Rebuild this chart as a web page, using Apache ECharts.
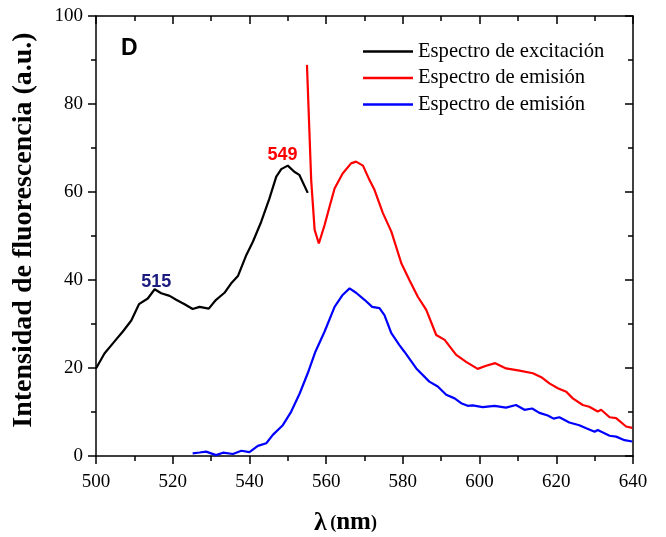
<!DOCTYPE html>
<html>
<head>
<meta charset="utf-8">
<script src="https://cdn.jsdelivr.net/npm/echarts@6/dist/echarts.min.js"></script>
<style>
  html, body { margin: 0; padding: 0; background: #fff; }
  #chart { width: 666px; height: 537px; }
</style>
</head>
<body>
<div id="chart"></div>
<script>
// espectro de excitacion (nm, intensidad)
var excitacion = [
  [500, 19.9], [502.2, 23.3], [504.4, 25.6], [507, 28.3], [509.2, 30.8], [511.2, 34.5],
  [513.5, 35.8], [515.3, 37.9], [517, 37.0], [519.2, 36.4], [520.9, 35.5], [523.1, 34.5],
  [525.2, 33.4], [527, 33.9], [529.4, 33.5], [531.3, 35.5], [533.5, 37.1], [535.2, 39.2],
  [537, 40.9], [539.2, 45.7], [540.9, 48.7], [543.1, 53.3], [545.2, 58.5], [547, 63.5],
  [548.3, 65.2], [550, 66], [551.7, 64.6], [553, 63.9], [555.2, 59.8]
]

// espectro de emision (rojo)
var emisionRoja = [
  [555, 88.9], [556.1, 62.7], [557, 51.4], [558.1, 48.3], [559.6, 52.5], [560.9, 56.7],
  [562.2, 60.8], [564.3, 64.2], [566.5, 66.5], [567.8, 66.9], [569.6, 66.0], [571.3, 62.7],
  [572.6, 60.5], [574.8, 55.2], [577, 51], [579.6, 43.8], [581.7, 40], [583.9, 36.2],
  [586.1, 33.2], [588.7, 27.5], [590.9, 26.4], [593.9, 23], [596.5, 21.4], [599.5, 19.8],
  [601.7, 20.5], [604.1, 21.1], [606.9, 19.9], [610.4, 19.4], [613.9, 18.8], [616.1, 17.9],
  [618.2, 16.5], [620.4, 15.4], [622.6, 14.6], [624.3, 13.1], [626.9, 11.6], [628.6, 11.2],
  [630.8, 10.1], [631.7, 10.5], [633.9, 8.8], [635.6, 8.6], [638.2, 6.7], [639.8, 6.4]
]

// espectro de emision (azul)
var emisionAzul = [
  [525.2, 0.6], [527, 0.8], [528.7, 1.0], [531.3, 0.2], [533.1, 0.75], [535.7, 0.45],
  [537.9, 1.2], [540, 0.9], [542.2, 2.3], [544.4, 2.9], [546.1, 4.8], [548.7, 7],
  [550.9, 10.1], [553.1, 14.2], [555.2, 18.8], [557.2, 23.7], [559.6, 28.3], [562.2, 33.9],
  [564.3, 36.6], [566.1, 38.1], [567.8, 37.1], [570, 35.5], [572, 33.9], [573.9, 33.6],
  [575.2, 32], [577, 27.9], [579.1, 25.2], [580.4, 23.7], [583.5, 19.9], [586.9, 16.9],
  [589.1, 15.8], [591.3, 13.9], [593.5, 13.1], [595.2, 12], [596.9, 11.4], [598.2, 11.5],
  [600.8, 11.1], [603.9, 11.4], [606.9, 11], [609.5, 11.6], [611.7, 10.5], [613.7, 10.8],
  [615.6, 9.8], [617.8, 9.2], [619.3, 8.5], [620.8, 8.8], [623.4, 7.6], [626, 7],
  [627.8, 6.3], [630, 5.5], [630.8, 5.9], [633.9, 4.6], [635.6, 4.4], [637.8, 3.6], [639.8, 3.3]
]

var nombres = ['Espectro de excitación', 'Espectro de emisión', 'Espectro de emisión\u200b']
var colores = ['#000000', '#ff0000', '#0000ff']

// etiquetas de picos: [nm, intensidad, texto]
var pico549 = [548.6, 68.4, '549']
var pico515 = [515.7, 39.5, '515']

var serif = '"Liberation Serif", "Times New Roman", serif'

var myChart = echarts.init(document.getElementById('chart'))

var ejeX = {
  type: 'value',
  min: 500,
  max: 640,
  interval: 20,
  axisLine: { onZero: false, lineStyle: { color: '#000', width: 1.5 } },
  splitLine: { show: false }
}
var ejeY = {
  type: 'value',
  min: 0,
  max: 100,
  interval: 20,
  axisLine: { show: true, onZero: false, lineStyle: { color: '#000', width: 1.5 } },
  splitLine: { show: false }
}

function marca(p, color) {
  return {
    symbol: 'circle',
    symbolSize: 1,
    itemStyle: { color: 'rgba(0,0,0,0)' },
    label: {
      show: true,
      position: 'inside',
      color: color,
      fontFamily: 'Arial, "Liberation Sans", sans-serif',
      fontWeight: 'bold',
      fontSize: 18,
      formatter: p[2]
    },
    data: [{ coord: [p[0], p[1]] }]
  }
}

var option = {
  animation: false,
  backgroundColor: '#fff',
  grid: { left: 96, right: 33, top: 16, bottom: 81, containLabel: false, outerBoundsMode: 'none' },
  legend: {
    data: nombres.map(function (n) { return { name: n, icon: 'rect' } }),
    orient: 'vertical',
    left: 358,
    top: 36,
    itemWidth: 50,
    itemHeight: 2.5,
    itemGap: 5.5,
    formatter: function (n) { return n.replace('\u200b', '') },
    textStyle: { fontFamily: serif, fontSize: 20.6, color: '#000', lineHeight: 21 }
  },
  xAxis: [
    Object.assign({}, ejeX, {
      position: 'bottom',
      name: '{l|λ} {p|(}{n|nm}{p|)}',
      nameLocation: 'middle',
      nameGap: 54,
      nameTextStyle: {
        padding: [0, 38, 0, 0],
        rich: {
          l: { fontFamily: serif, fontWeight: 'bold', fontSize: 26, color: '#000' },
          p: { fontFamily: serif, fontWeight: 'bold', fontSize: 18, color: '#000' },
          n: { fontFamily: serif, fontWeight: 'bold', fontSize: 25, color: '#000' }
        }
      },
      axisTick: { inside: false, length: 8, lineStyle: { color: '#000', width: 1.5 } },
      minorTick: { show: true, splitNumber: 2, length: 5, lineStyle: { color: '#000', width: 1.5 } },
      axisLabel: { fontFamily: serif, fontSize: 19, color: '#000', margin: 17 }
    }),
    Object.assign({}, ejeX, {
      position: 'top',
      axisTick: { inside: true, length: 8, lineStyle: { color: '#000', width: 1.5 } },
      minorTick: { show: true, splitNumber: 2, length: 5, lineStyle: { color: '#000', width: 1.5 } },
      axisLabel: { show: false }
    })
  ],
  yAxis: [
    Object.assign({}, ejeY, {
      position: 'left',
      name: 'Intensidad de fluorescencia (a.u.)',
      nameLocation: 'middle',
      nameGap: 58,
      nameTextStyle: { fontFamily: serif, fontWeight: 'bold', fontSize: 28, color: '#000', padding: [0, 0, 0, 12] },
      axisTick: { inside: false, length: 8, lineStyle: { color: '#000', width: 1.5 } },
      minorTick: { show: true, splitNumber: 2, length: 5, lineStyle: { color: '#000', width: 1.5 } },
      axisLabel: { fontFamily: serif, fontSize: 19, color: '#000', margin: 13 }
    }),
    Object.assign({}, ejeY, {
      position: 'right',
      axisTick: { inside: true, length: 8, lineStyle: { color: '#000', width: 1.5 } },
      minorTick: { show: true, splitNumber: 2, length: 5, lineStyle: { color: '#000', width: 1.5 } },
      axisLabel: { show: false }
    })
  ],
  graphic: [{
    type: 'text',
    left: 121,
    top: 37,
    style: { text: 'D', fontFamily: 'Arial, "Liberation Sans", sans-serif', fontWeight: 'bold', fontSize: 23, fill: '#000' }
  }],
  series: [
    {
      name: nombres[0], type: 'line', data: excitacion, showSymbol: false,
      lineStyle: { color: colores[0], width: 2.2 }, itemStyle: { color: colores[0] },
      markPoint: marca(pico515, '#1a1a80')
    },
    {
      name: nombres[1], type: 'line', data: emisionRoja, showSymbol: false,
      lineStyle: { color: colores[1], width: 2.2 }, itemStyle: { color: colores[1] },
      markPoint: marca(pico549, '#ff0000')
    },
    {
      name: nombres[2], type: 'line', data: emisionAzul, showSymbol: false,
      lineStyle: { color: colores[2], width: 2.2 }, itemStyle: { color: colores[2] }
    }
  ]
}

myChart.setOption(option)
</script>
</body>
</html>
